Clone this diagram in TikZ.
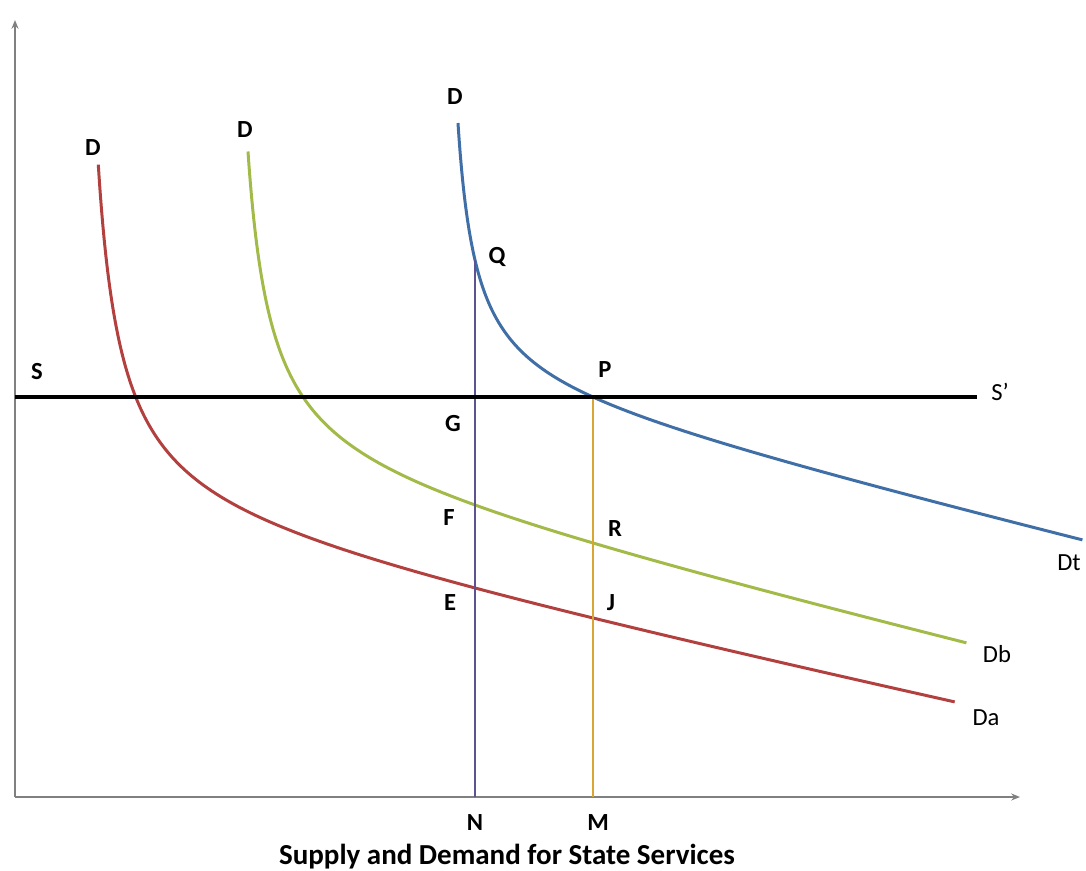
\documentclass[tikz,border=0pt]{standalone}
\usepackage{fontspec}
\setmainfont{Carlito}
\usepackage{tikz}
\usetikzlibrary{arrows.meta}
\definecolor{curvea}{HTML}{B2403E}
\definecolor{curveb}{HTML}{A2BA48}
\definecolor{curvet}{HTML}{3F6FA6}
\definecolor{linen}{HTML}{5E5290}
\definecolor{linem}{HTML}{D9A534}

\begin{document}
\begin{tikzpicture}[x=0.2mm,y=-0.2mm,every node/.style={font=\fontsize{14}{16}\selectfont\bfseries},
		axis/.style={draw=gray,line width=1.1pt,-{Stealth[length=5pt,width=4pt]}},
		curve/.style={line width=1.7pt},
		plain/.style={font=\fontsize{14}{16}\selectfont}]
		\useasboundingbox (0,0) rectangle (1086,871);

		\coordinate (O) at (15,797);
		\coordinate (ytop) at (15,20);
		\coordinate (xend) at (1020,797);
		\draw[axis] (O) -- (ytop);
		\draw[axis] (O) -- (xend);

		\draw[curve,curvea] plot[variable=\t,domain=3.148:6.78,samples=120] ({75+exp(\t)},{507.8+0.2134*(75+exp(\t))-8481/exp(\t)});
		\draw[curve,curveb] plot[variable=\t,domain=3.135:6.609,samples=120] ({225+exp(\t)},{421.4+0.2397*(225+exp(\t))-7571/exp(\t)});
		\draw[curve,curvet] plot[variable=\t,domain=2.890:6.466,samples=120] ({440+exp(\t)},{285.8+0.2418*(440+exp(\t))-4922/exp(\t)});

		\coordinate (S0) at (15,397);
		\coordinate (S1) at (977,397);
		\coordinate (N0) at (475,797);
		\coordinate (Qpt) at (475,260);
		\coordinate (M0) at (593,797);
		\coordinate (Ppt) at (593,397);
		\draw[linen,line width=1.4pt] (N0) -- (Qpt);
		\draw[linem,line width=1.4pt] (M0) -- (Ppt);
		\draw[line width=2.3pt] (S0) -- (S1);

		\node (Da0) at (93,148) {D};
		\node (Db0) at (245,130) {D};
		\node (Dt0) at (455,97) {D};
		\node (labS) at (37,372) {S};
		\node[plain] (labS1) at (1000,392) {S’};
		\node (labQ) at (497,257) {Q};
		\node (labP) at (605,370) {P};
		\node (labG) at (453,424) {G};
		\node (labF) at (449,518) {F};
		\node (labR) at (615,529) {R};
		\node (labE) at (450,603) {E};
		\node (labJ) at (611,603) {J};
		\node[plain] (labDt) at (1069,563) {Dt};
		\node[plain] (labDb) at (997,654) {Db};
		\node[plain] (labDa) at (986,718) {Da};
		\node (labN) at (475,823) {N};
		\node (labM) at (598,823) {M};
		\node[font=\fontsize{16.5}{18}\selectfont\bfseries] (title) at (507,857) {Supply and Demand for State Services};
	\end{tikzpicture}
\end{document}
